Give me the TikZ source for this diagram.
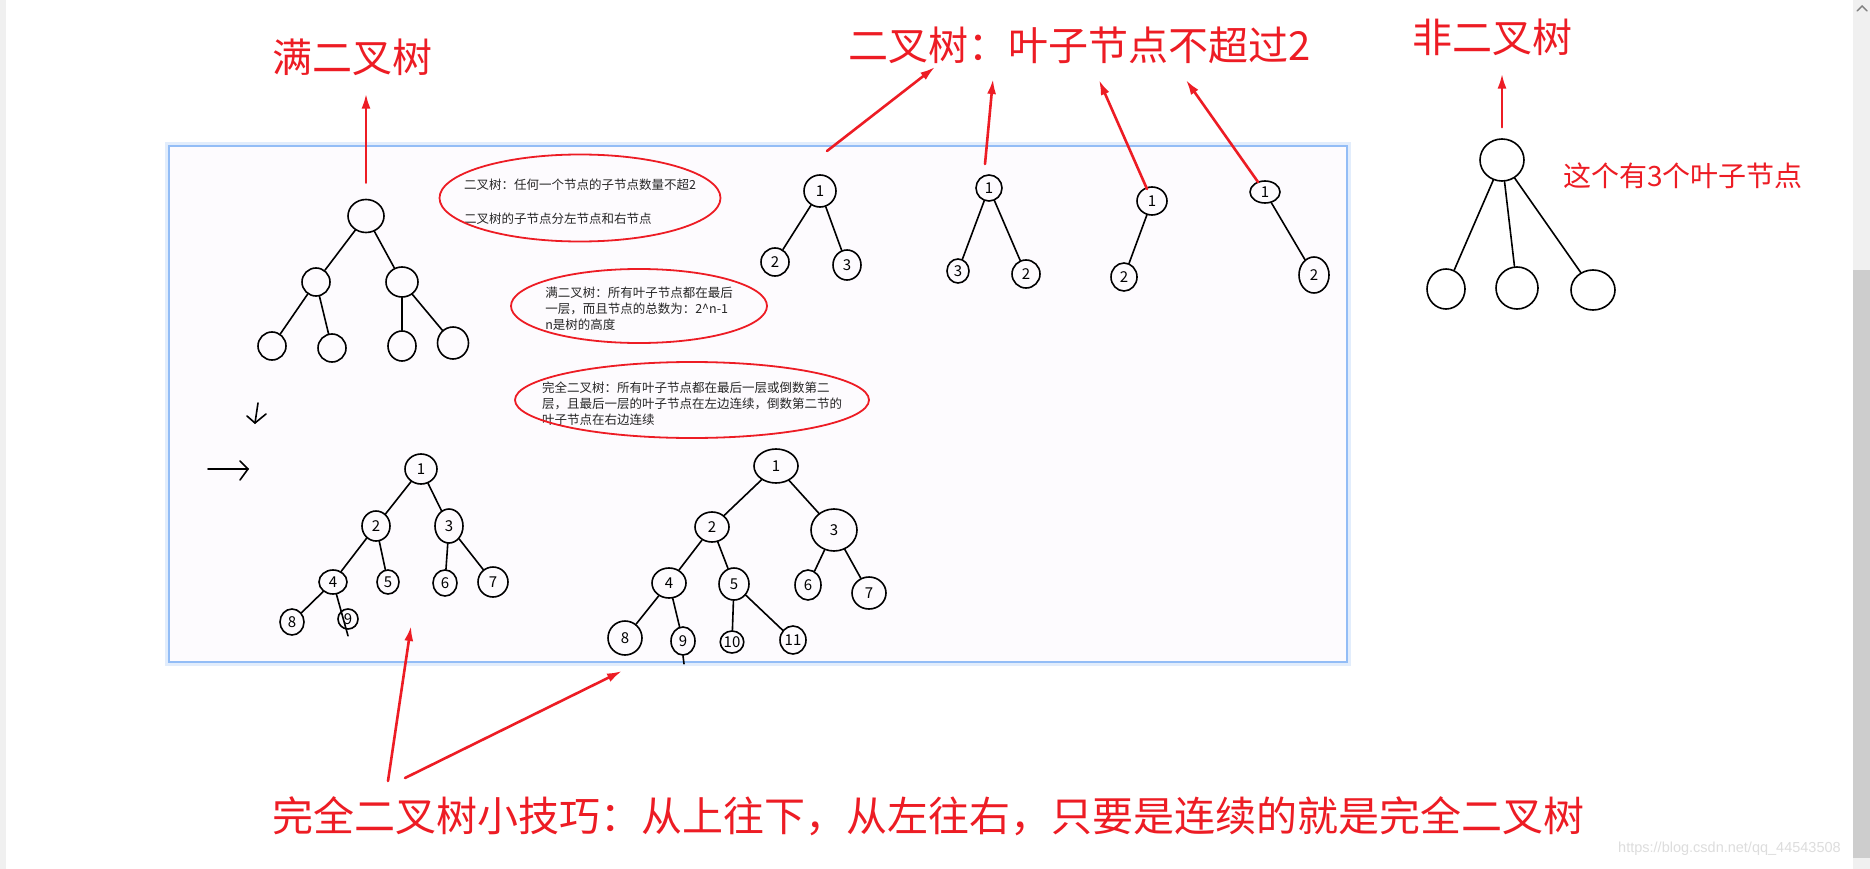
\documentclass[tikz,border=0pt]{standalone}
\usepackage{fontspec}
\setmainfont{Noto Sans CJK SC}
\newfontfamily\markfont{Liberation Sans}
\usetikzlibrary{arrows.meta,shapes.geometric}
\definecolor{PaintRed}{HTML}{ED1C24}
\definecolor{NoteInk}{HTML}{262626}
\definecolor{PanelBg}{HTML}{FDFBFE}
\definecolor{PanelEdge}{HTML}{93BDF6}
\definecolor{PanelGlow}{HTML}{E2EDFC}
\definecolor{BarGrey}{HTML}{F0F0F0}
\definecolor{ThumbGrey}{HTML}{CDCDCD}
\definecolor{MarkGrey}{HTML}{DDDDDD}

\begin{document}
\begin{tikzpicture}[x=1pt,y=-1pt,>=Latex,line cap=round,every node/.style={inner sep=0pt},
 tnode/.style={draw,ellipse,line width=1.6pt,font=\fontsize{15}{15}\selectfont},
 title/.style={text=PaintRed,font=\fontsize{40}{40}\selectfont},
 note/.style={text=NoteInk,align=left,font=\fontsize{12.5}{16}\selectfont},
 ring/.style={draw=PaintRed,line width=1.8pt},
 redarrow/.style={draw=PaintRed,line width=2.6pt,-{Latex[length=15pt,width=9pt]}}]
\fill[white](0,0)rectangle(1870,869);\fill[BarGrey](0,0)rectangle(6,869);
\fill[BarGrey](1853,0)rectangle(1870,869);\fill[ThumbGrey](1853,270)rectangle(1870,858);\draw[gray,line width=1.4pt](1857,11)--(1862,6)--(1867,11);
% screenshot panel
\draw[PanelGlow,line width=4pt](167,144)rectangle(1349,664);\fill[PanelBg](169,146)rectangle(1347,662);\draw[PanelEdge,line width=1.2pt](169,146)rectangle(1347,662);
% trees
\foreach \n/\x/\y/\w/\h/\t in {f0/366/216/36/33/{},f1/316/282/28/28/{},f2/402/282/32/30/{},f3/272/346/28/28/{},f4/332/348/28/28/{},f5/402/346/28/30/{},f6/453/343/31/32/{},
 a0/820/191/32/32/1,a1/775/262/28/28/2,a2/847/265/28/30/3,b0/989/188/26/26/1,b1/958/271/22/24/3,b2/1026/274/28/28/2,c0/1152/201/30/28/1,c1/1124/277/26/28/2,d0/1265/192/30/22/1,d1/1314/275/30/36/2,
 n0/1502/160/44/42/{},n1/1446/289/38/40/{},n2/1517/288/42/42/{},n3/1593/290/44/40/{},
 e1/421/469/32/30/1,e2/376/526/28/30/2,e3/449/526/28/34/3,e4/333/582/28/24/4,e5/388/582/22/24/5,e6/445/583/24/26/6,e7/493/582/30/30/7,e8/292/622/24/26/8,e9/348/619/20/20/9,
 g1/776/466/44/34/1,g2/712/527/34/30/2,g3/834/530/46/42/3,g4/669/583/34/30/4,g5/734/584/30/32/5,g6/808/585/26/30/6,g7/869/593/34/32/7,g8/625/638/34/34/8,g9/683/641/24/28/9,g10/732/642/22/22/10,g11/793/640/26/28/11}
 {\node[tnode,minimum width=\w pt,minimum height=\h pt](\n)at(\x,\y){\t};}
\foreach \a/\b in {f0/f1,f0/f2,f1/f3,f1/f4,f2/f5,f2/f6,a0/a1,a0/a2,b0/b1,b0/b2,c0/c1,d0/d1,n0/n1,n0/n2,n0/n3,
 e1/e2,e1/e3,e2/e4,e2/e5,e3/e6,e3/e7,e4/e8,g1/g2,g1/g3,g2/g4,g2/g5,g3/g6,g3/g7,g4/g8,g4/g9,g5/g10,g5/g11}{\draw[line width=1.6pt](\a)--(\b);}
\draw[line width=1.6pt](e4)--([yshift=-6pt]e9.south);\draw[line width=1.6pt](g9.south)--++(1,8);
% hand marks
\draw[line width=1.6pt](258,403)--(255,423);\draw[line width=1.6pt](247,416)--(255,423)--(266,414);
\draw[line width=1.6pt](208,469)--(248,469);\draw[line width=1.6pt](240,461)--(248,469)--(240,480);
% notes
\node[note](m1)at(580,202){二叉树：任何一个节点的子节点数量不超2\\[18pt]二叉树的子节点分左节点和右节点};
\draw[ring]([yshift=4pt]m1.center)ellipse[x radius=140.5,y radius=43.5];
\node[note](m2)at(639,309){满二叉树：所有叶子节点都在最后\\一层，而且节点的总数为：2\textasciicircum n-1\\n是树的高度};
\draw[ring]([yshift=3pt]m2.center)ellipse[x radius=128,y radius=37];
\node[note](m3)at(692,404){完全二叉树：所有叶子节点都在最后一层或倒数第二\\层，且最后一层的叶子节点在左边连续，倒数第二节的\\叶子节点在右边连续};
\draw[ring]([yshift=4pt]m3.center)ellipse[x radius=177,y radius=38];
% red labels
\node[title](t0)at(352,57){满二叉树};
\node[title](t1)at(1080,45){二叉树：叶子节点不超过2};
\node[title](t2)at(1492,37){非二叉树};
\node[text=PaintRed,font=\fontsize{28}{28}\selectfont](t4)at(1683,176){这个有3个叶子节点};
\node[title,font=\fontsize{41}{41}\selectfont](t3)at(928,816){完全二叉树小技巧：从上往下，从左往右，只要是连续的就是完全二叉树};
\node[text=MarkGrey,font=\markfont\fontsize{14.5}{14.5}\selectfont,anchor=west](wm)at(1618,849){https://blog.csdn.net/qq\_44543508};
\draw[redarrow,shorten <=16pt,shorten >=18pt](f0.north)--(t0.south-|f0.north);
\draw[redarrow,shorten <=11pt,shorten >=18pt](n0.north)--(t2.south-|n0.north);
\coordinate(s1)at(827,151);\coordinate(p1)at(935,67);\coordinate(s2)at(985,164);\coordinate(p2)at(993,79);
\coordinate(s3)at(1147,189);\coordinate(p3)at(1099,80);\coordinate(s4)at(1258,182);\coordinate(p4)at(1186,80);
\coordinate(s5)at(388,781);\coordinate(p5)at(411,626);\coordinate(s6)at(405,778);\coordinate(p6)at(622,671);
\foreach \i in {1,...,6}{\draw[redarrow](s\i)--(p\i);}
\end{tikzpicture}
\end{document}
